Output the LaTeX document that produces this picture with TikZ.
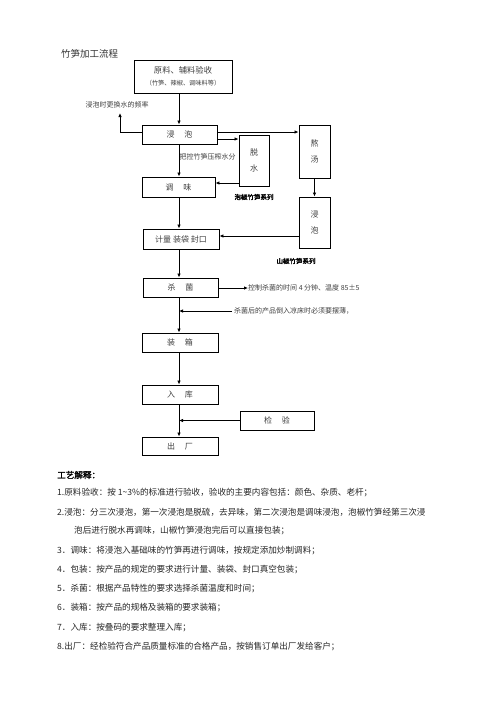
\documentclass[tikz,border=0pt]{standalone}
\usepackage{fontspec}
\setmainfont{Noto Sans CJK SC}
\newfontfamily\cjkb{Noto Sans CJK SC}[FakeBold=2]
\usetikzlibrary{arrows.meta}
\begin{document}
\begin{tikzpicture}[x=1pt,y=-1pt,
  box/.style={draw,line width=0.9pt,inner sep=0pt,align=center,font=\fontsize{8}{9}\selectfont,text=black!75},
  conn/.style={line width=0.9pt,-{Latex[length=4pt,width=3.5pt]}},
  lbl/.style={inner sep=0pt,font=\fontsize{7}{8}\selectfont,text=black!75},
  blbl/.style={inner sep=0pt,font=\cjkb\fontsize{6.5}{8}\selectfont},
  body/.style={inner sep=0pt,anchor=west,font=\fontsize{8.6}{10}\selectfont,text=black!85}]
\useasboundingbox (0,0) rectangle (496,702);
\fill[white] (0,0) rectangle (496,702);
\node[inner sep=0pt,anchor=west,font=\fontsize{9.5}{10}\selectfont,text=black!80] (title) at (61,54) {竹笋加工流程};
% boxes
\node[box,minimum width=98pt,minimum height=33pt,font=\fontsize{8.3}{12.5}\selectfont] (raw) at (183,76.5) {原料、辅料验收\\{\fontsize{6.2}{8}\selectfont（竹笋、辣椒、调味料等）}};
\node[box,minimum width=75pt,minimum height=19pt] (soak1) at (179.5,134.5) {浸\quad\ 泡};
\node[box,minimum width=30pt,minimum height=51pt,font=\fontsize{8}{16}\selectfont] (tuoshui) at (254,160.5) {脱\\水};
\node[box,minimum width=31pt,minimum height=53pt,font=\fontsize{8}{16}\selectfont] (aotang) at (314.5,151.5) {熬\\汤};
\node[box,minimum width=73pt,minimum height=20pt] (tiaowei) at (178.5,187) {调\quad\ 味};
\node[box,minimum width=31pt,minimum height=51pt,font=\fontsize{8}{16}\selectfont] (soak2) at (314.5,222.5) {浸\\泡};
\node[box,minimum width=76pt,minimum height=20pt] (jiliang) at (181,239) {计量 装袋 封口};
\node[box,minimum width=75pt,minimum height=19pt] (shajun) at (180.5,287.5) {杀\quad\ 菌};
\node[box,minimum width=76pt,minimum height=19pt] (zhuang) at (180,342.5) {装\quad\ 箱};
\node[box,minimum width=76pt,minimum height=19pt] (ruku) at (180,394.5) {入\quad\ 库};
\node[box,minimum width=74pt,minimum height=19pt] (jian) at (277,420.5) {检\quad\ 验};
\node[box,minimum width=76pt,minimum height=18pt] (chu) at (180,446) {出\quad\ 厂};
% labels
\node[lbl] (freqlbl) at (117,105) {浸泡时更换水的频率};
\coordinate (freq) at (120,113);
\node[lbl,anchor=west] (presslbl) at (179.5,157) {把控竹笋压榨水分};
\node[blbl] (paojiao) at (254,197) {泡椒竹笋系列};
\node[blbl] (shanjiao) at (296,261) {山椒竹笋系列};
\node[lbl,anchor=west] (ctrl) at (248,288) {控制杀菌的时间 4 分钟、温度 85±5};
\node[lbl,anchor=west] (cool) at (234,311) {杀菌后的产品倒入凉床时必须要摆薄，};
\coordinate (spine) at (179,0);
% connectors
\draw[conn] (raw.south -| spine) -- (soak1.north -| spine);
\draw[conn] (soak1.west |- 0,132) -| (freq);
\draw[conn] (soak1.east |- 0,132) -- (aotang.west |- 0,132);
\draw[conn] (soak1.east |- 0,139) -- (tuoshui.west |- 0,139);
\draw[conn] (soak1.south -| spine) -- (tiaowei.north -| spine);
\draw[conn] (tuoshui.west |- 0,183) -- (tiaowei.east |- 0,183);
\draw[conn] (aotang.south) -- (soak2.north);
\draw[conn] (soak2.west |- 0,236) -- (jiliang.east |- 0,236);
\draw[conn] (tiaowei.south -| spine) -- (jiliang.north -| spine);
\draw[conn] (jiliang.south -| spine) -- (shajun.north -| spine);
\draw[conn] (shajun.east |- ctrl.west) -- (ctrl.west);
\draw[conn] (shajun.south -| spine) -- (zhuang.north -| spine);
\draw[conn] ([xshift=-2pt]cool.west) -- (spine |- cool.west);
\draw[conn] (zhuang.south -| spine) -- (ruku.north -| spine);
\draw[conn] (ruku.south -| spine) -- (chu.north -| spine);
\draw[conn] (jian.west) -- (spine |- jian.west);
% explanation
\node[inner sep=0pt,anchor=west,font=\cjkb\fontsize{8.6}{10}\selectfont] (hdr) at (57,475) {工艺解释：};
\node[body] (l1) at (57,493) {1.原料验收：按 1\textasciitilde 3\%的标准进行验收，验收的主要内容包括：颜色、杂质、老杆；};
\node[body] (l2) at (57,512) {2.浸泡：分三次浸泡，第一次浸泡是脱硫，去异味，第二次浸泡是调味浸泡，泡椒竹笋经第三次浸};
\node[body] (l2b) at (74,531) {泡后进行脱水再调味，山椒竹笋浸泡完后可以直接包装；};
\node[body] (l3) at (57,551) {3．调味：将浸泡入基础味的竹笋再进行调味，按规定添加炒制调料；};
\node[body] (l4) at (57,570) {4．包装：按产品的规定的要求进行计量、装袋、封口真空包装；};
\node[body] (l5) at (57,589) {5．杀菌：根据产品特性的要求选择杀菌温度和时间；};
\node[body] (l6) at (57,608) {6．装箱：按产品的规格及装箱的要求装箱；};
\node[body] (l7) at (57,628) {7．入库：按叠码的要求整理入库；};
\node[body] (l8) at (57,647) {8.出厂：经检验符合产品质量标准的合格产品，按销售订单出厂发给客户；};
\end{tikzpicture}
\end{document}
